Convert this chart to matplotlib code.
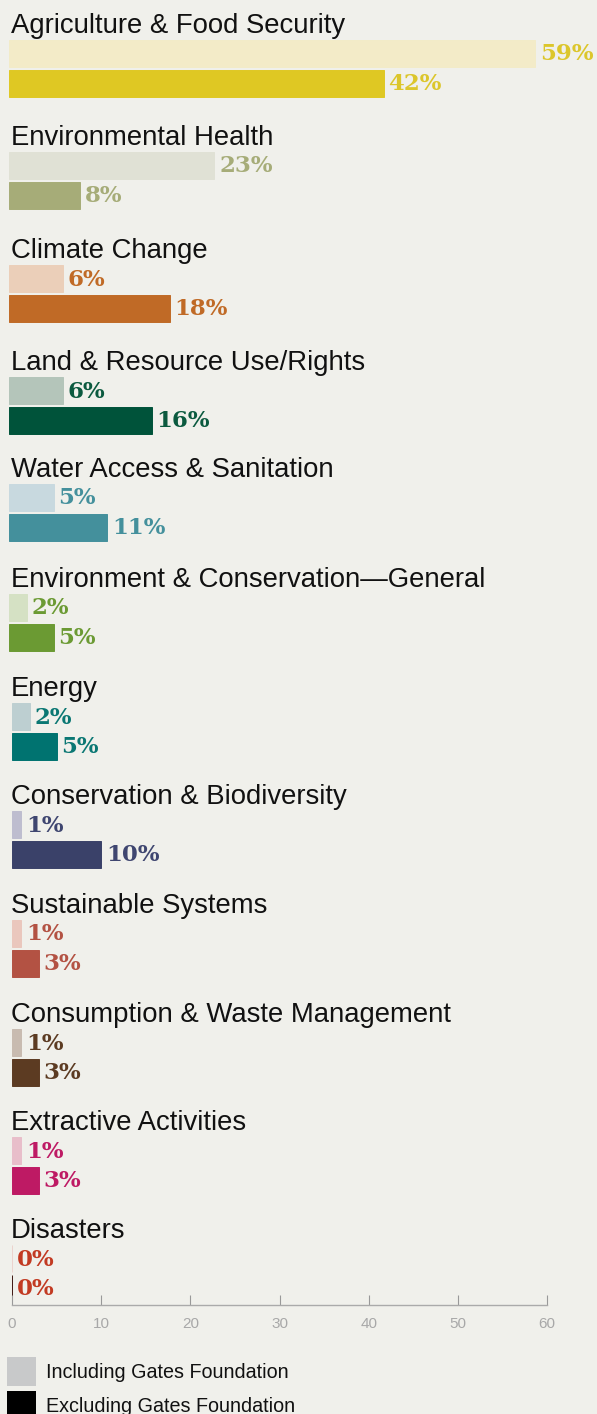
import matplotlib
matplotlib.use("Agg")
import matplotlib.pyplot as plt
import matplotlib.transforms as mtransforms
from matplotlib.patches import Rectangle
import numpy as np

# ---- data ----
categories = [
    "Agriculture & Food Security",
    "Environmental Health",
    "Climate Change",
    "Land & Resource Use/Rights",
    "Water Access & Sanitation",
    "Environment & Conservation\u2014General",
    "Energy",
    "Conservation & Biodiversity",
    "Sustainable Systems",
    "Consumption & Waste Management",
    "Extractive Activities",
    "Disasters",
]
including_gates = [59, 23, 6, 6, 5, 2, 2, 1, 1, 1, 1, 0]
excluding_gates = [42, 8, 18, 16, 11, 5, 5, 10, 3, 3, 3, 0]
light_colors = ["#F3EBC8", "#E0E1D5", "#EBCFB9", "#B4C5BA", "#C8D9DF", "#D5E1C4",
                "#BDCFD1", "#BEBDCF", "#EAC7BD", "#C8BBB0", "#E8BECA", "#EBD3CD"]
dark_colors = ["#DFC823", "#A6AC78", "#C06A26", "#00533A", "#44909C", "#6B9A33",
               "#007370", "#3A4169", "#B35243", "#5C3B22", "#BE1A64", "#3E1812"]
label_colors = ["#DCC62B", "#A6AC78", "#C06A26", "#0B5A3F", "#44909C", "#6B9A33",
                "#0A7773", "#3F4670", "#B35243", "#5C3B22", "#BE1A64", "#C23A22"]
xticks = [0, 10, 20, 30, 40, 50, 60]
legend_labels = ["Including Gates Foundation", "Excluding Gates Foundation"]
legend_colors = ["#C8C9CA", "#000000"]

# ---- layout (pixels) ----
W, H = 597, 1414
BG = "#F0F0EB"
AXIS_Y = 1305
band_gaps = [112, 113, 112, 107, 110, 109, 108, 109, 109, 108, 108]
baselines = 33 + np.concatenate([[0], np.cumsum(band_gaps)])
shift_px = [-3] * 6 + [0] * 6
PX_PER_UNIT = 535 / 60

fig = plt.figure(figsize=(W / 100, H / 100), dpi=100, facecolor=BG)
ax = fig.add_axes([12 / W, (H - AXIS_Y) / H, 535 / W, AXIS_Y / H])
ax.set_facecolor(BG)
ax.patch.set_visible(False)
ax.set_xlim(0, 60)
ax.set_ylim(AXIS_Y, 0)

bar_h = 27
title_font = ["Liberation Sans", "DejaVu Sans"]
for i, cat in enumerate(categories):
    base = baselines[i]
    ax.text(-0.1, base, cat, ha="left", va="baseline", fontsize=19.8,
            family=title_font, color="#111111")
    y1 = base + 20.5
    y2 = base + 50
    left = shift_px[i] / PX_PER_UNIT
    ax.barh(y1, including_gates[i], left=left, height=bar_h, color=light_colors[i],
            edgecolor=light_colors[i], linewidth=0.7, clip_on=False)
    ax.barh(y2, excluding_gates[i], left=left, height=bar_h, color=dark_colors[i],
            edgecolor=dark_colors[i], linewidth=0.7, clip_on=False)
    for y, v in ((y1, including_gates[i]), (y2, excluding_gates[i])):
        ax.annotate(f"{v}%", xy=(v + left, y + 1), xytext=(3.6, 0),
                    textcoords="offset points",
                    ha="left", va="center", fontsize=16.5, fontweight="heavy",
                    family=["DejaVu Serif"], color=label_colors[i])

ax.set_xticks(xticks)
ax.set_xticklabels([str(t) for t in xticks], family=title_font)
ax.set_yticks([])
ax.tick_params(axis="x", direction="in", length=7, width=0.8, color="#999999",
               labelcolor="#A8A8A8", labelsize=11, pad=8.5)
for s in ("left", "top", "right"):
    ax.spines[s].set_visible(False)
ax.spines["bottom"].set_color("#AAAAAA")
ax.spines["bottom"].set_linewidth(1)

# legend in pixel coordinates (from top-left)
pix = mtransforms.Affine2D().scale(1, -1).translate(0, H)
for j, (lab, col) in enumerate(zip(legend_labels, legend_colors)):
    top = 1357 + j * 34
    fig.add_artist(Rectangle((7, top + 29), 29, -29, transform=pix,
                             facecolor=col, edgecolor="none"))
    fig.text(46, top + 21, lab, transform=pix, ha="left", va="baseline",
             fontsize=14.2, family=title_font, color="#111111")

fig.savefig("out.png", dpi=100, facecolor=BG)
